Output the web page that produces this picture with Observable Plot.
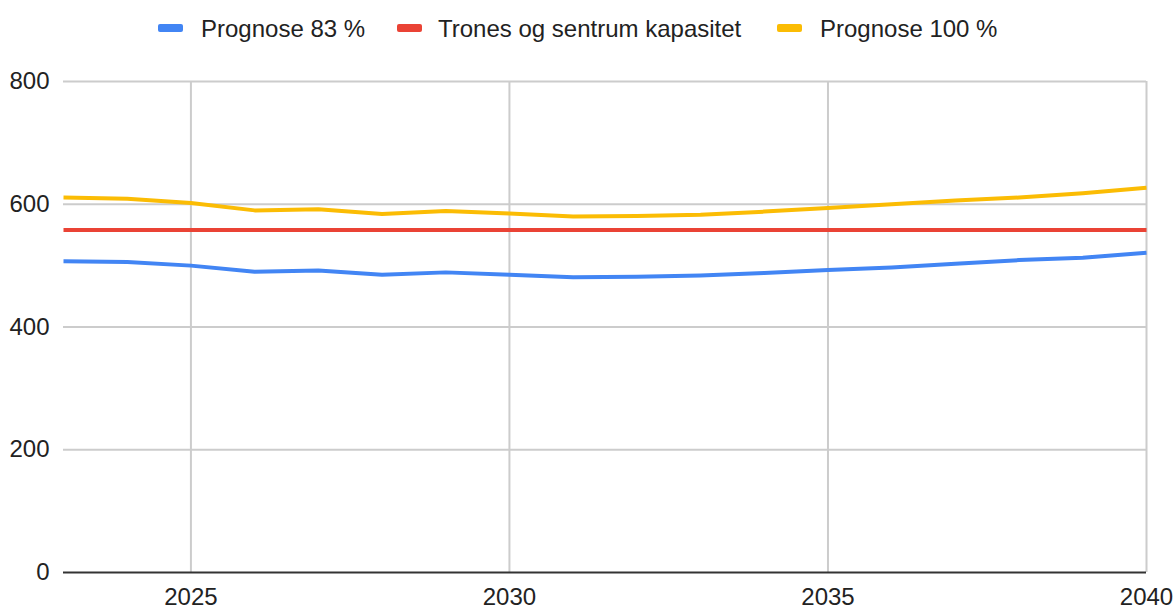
<!DOCTYPE html>
<html>
<head>
<meta charset="utf-8">
<script src="https://cdn.jsdelivr.net/npm/d3@7"></script>
<script src="https://cdn.jsdelivr.net/npm/@observablehq/plot@0.6"></script>
<style>
  html, body { margin: 0; padding: 0; background: #fff; }
  body { width: 1174px; height: 610px; overflow: hidden; font-family: "Liberation Sans", Arial, sans-serif; }
  #legend { height: 50px; position: relative; }
  .item { position: absolute; top: 0; height: 50px; }
  .sw { position: absolute; top: 24px; width: 25px; height: 8px; border-radius: 2px; }
  .lab { position: absolute; top: 15px; font-size: 24px; line-height: 28px; color: #222; white-space: nowrap; }
  #chart svg { display: block; overflow: visible; }
</style>
</head>
<body>
<div id="legend"></div>
<div id="chart"></div>
<script>
const years = [2023, 2024, 2025, 2026, 2027, 2028, 2029, 2030, 2031, 2032, 2033, 2034, 2035, 2036, 2037, 2038, 2039, 2040];
const prognose83 = [507, 506, 500, 490, 492, 485, 489, 485, 481, 482, 484, 488, 493, 497, 503, 509, 513, 521];
const kapasitet = [558, 558, 558, 558, 558, 558, 558, 558, 558, 558, 558, 558, 558, 558, 558, 558, 558, 558];
const prognose100 = [611, 609, 602, 590, 592, 584, 589, 585, 580, 581, 583, 588, 594, 600, 606, 611, 618, 627];
const seriesNames = ["Prognose 83 %", "Trones og sentrum kapasitet", "Prognose 100 %"];
const seriesColors = ["#4285F4", "#EA4335", "#FBBC04"];
const xTicks = [2025, 2030, 2035, 2040];
const yTicks = [0, 200, 400, 600, 800];

const seriesValues = [prognose83, kapasitet, prognose100];
const data = [];
seriesNames.forEach((name, i) => {
  years.forEach((yr, j) => data.push({series: name, year: yr, value: seriesValues[i][j]}));
});

// legend
const legend = document.getElementById("legend");
const swX = [158, 397, 777];
seriesNames.forEach((name, i) => {
  const it = document.createElement("div");
  it.className = "item";
  it.style.left = swX[i] + "px";
  const sw = document.createElement("div");
  sw.className = "sw";
  sw.style.left = "0px";
  sw.style.background = seriesColors[i];
  const lab = document.createElement("div");
  lab.className = "lab";
  lab.style.left = (i === 1 ? 41 : 43) + "px";
  lab.textContent = name;
  it.appendChild(sw); it.appendChild(lab);
  legend.appendChild(it);
});

const chart = Plot.plot({
  width: 1174,
  height: 560,
  marginTop: 31,
  marginBottom: 38,
  marginLeft: 63,
  marginRight: 28,
  style: {fontFamily: "'Liberation Sans', Arial, sans-serif", fontSize: "24px", color: "#222", background: "#fff", overflow: "visible"},
  x: {domain: [2023, 2040], ticks: xTicks, tickFormat: d => String(d), tickSize: 0, tickPadding: 15, label: null},
  y: {domain: [0, 800], ticks: yTicks, tickSize: 0, tickPadding: 14, label: null},
  color: {domain: seriesNames, range: seriesColors},
  marks: [
    Plot.ruleY(yTicks.filter(d => d > 0), {stroke: "#cccccc", strokeWidth: 2}),
    Plot.ruleX(xTicks, {y1: 0, y2: 800, stroke: "#cccccc", strokeWidth: 2}),
    Plot.ruleY([0], {stroke: "#333333", strokeWidth: 2}),
    Plot.line(data, {x: "year", y: "value", z: "series", stroke: "series", strokeWidth: 4, strokeLinejoin: "round", strokeLinecap: "butt"}),
    Plot.axisX({ticks: xTicks, tickFormat: d => String(d), tickSize: 0, tickPadding: 15, fill: "#222"}),
    Plot.axisY({ticks: yTicks, tickSize: 0, tickPadding: 14, fill: "#222"})
  ]
});
document.getElementById("chart").appendChild(chart);
</script>
</body>
</html>
